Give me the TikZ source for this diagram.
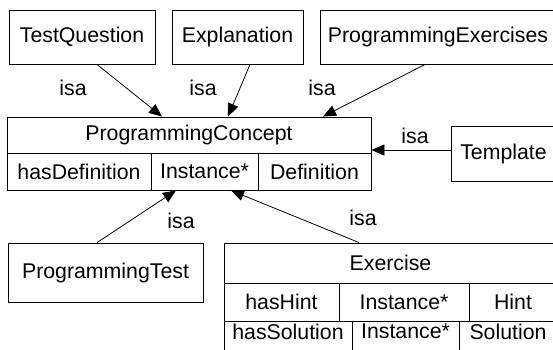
\documentclass[tikz,border=0pt]{standalone}
\usepackage{fontspec}
\setmainfont{Liberation Sans}
\usetikzlibrary{arrows.meta}

\tikzset{
  cls/.style={draw, line width=0.9pt, inner sep=0pt, font=\fontsize{21.3}{25}\selectfont},
  lastrow/.style={cls, minimum height=40pt, text depth=19pt},
  isa/.style={-{Triangle[length=13pt,width=11pt]}, line width=0.8pt},
  isalabel/.style={inner sep=0pt, font=\fontsize{21.3}{25}\selectfont}
}

\begin{document}
\begin{tikzpicture}[x=1pt,y=-1pt]
\useasboundingbox (0,0) rectangle (553,349);
\clip (0,0) rectangle (553,349);
% top row
\node[cls, minimum width=146pt, minimum height=54pt] (testq) at (82,37) {TestQuestion};
\node[cls, minimum width=131pt, minimum height=54pt] (expl) at (237.5,37) {Explanation};
\node[cls, minimum width=236pt, minimum height=54pt] (progex) at (438,37) {ProgrammingExercises};
% ProgrammingConcept
\node[cls, minimum width=364pt, minimum height=36pt] (pc) at (189,135) {ProgrammingConcept};
\node[cls, minimum width=144pt, minimum height=37pt] (pchas) at (79,171.5) {hasDefinition};
\node[cls, minimum width=107pt, minimum height=37pt] (pcinst) at (204.5,171.5) {Instance*};
\node[cls, minimum width=113pt, minimum height=37pt] (pcdef) at (314.5,171.5) {Definition};
\node[cls, minimum width=105pt, minimum height=55pt] (templ) at (503.5,153.5) {Template};
% bottom row
\node[cls, minimum width=195pt, minimum height=59pt] (progtest) at (105.5,272.5) {ProgrammingTest};
\node[cls, minimum width=333pt, minimum height=40pt] (exer) at (390.5,263) {Exercise};
\node[cls, minimum width=115pt, minimum height=38pt] (exhint) at (281.5,302) {hasHint};
\node[cls, minimum width=130pt, minimum height=38pt] (exinsta) at (404,302) {Instance*};
\node[cls, minimum width=88pt, minimum height=38pt] (hint) at (513,302) {Hint};
\node[lastrow, minimum width=128pt] (exsol) at (288,341) {hasSolution};
\node[lastrow, minimum width=107pt] (exinstb) at (405.5,341) {Instance*};
\node[lastrow, minimum width=98pt] (sol) at (508,341) {Solution};
% isa links
\draw[isa] ([xshift=15pt]testq.south) -- ([xshift=-27pt]pc.north);
\draw[isa] ([xshift=12.5pt]expl.south) -- ([xshift=39pt]pc.north);
\draw[isa] ([xshift=-13pt]progex.south) -- ([xshift=134pt]pc.north);
\draw[isa] ([yshift=3.5pt]templ.west) -- ([yshift=3.5pt]templ.west -| pc.east);
\draw[isa] ([xshift=-8.5pt]progtest.north) -- ([xshift=-28.5pt]pcinst.south);
\draw[isa] ([xshift=-31.5pt]exer.north) -- ([xshift=26.5pt]pcinst.south);
\node[isalabel] (isa1) at (73,88) {isa};
\node[isalabel] (isa2) at (203,88) {isa};
\node[isalabel] (isa3) at (322,88) {isa};
\node[isalabel] (isa4) at (415,136) {isa};
\node[isalabel] (isa5) at (181,221) {isa};
\node[isalabel] (isa6) at (363,218) {isa};
\end{tikzpicture}
\end{document}
